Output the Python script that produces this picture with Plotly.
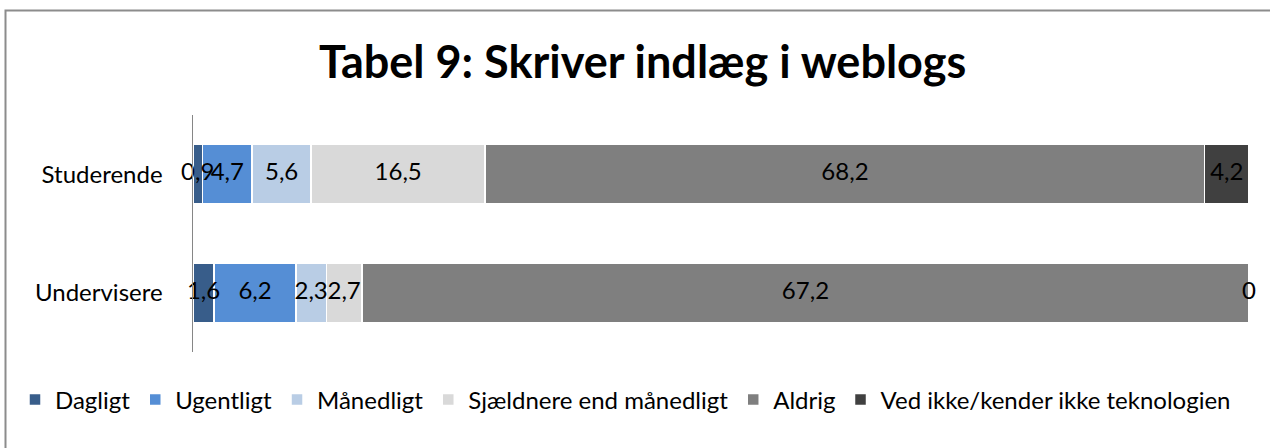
import plotly.graph_objects as go

categories = ["Studerende", "Undervisere"]
series_names = ["Dagligt", "Ugentligt", "Månedligt", "Sjældnere end månedligt", "Aldrig",
                "Ved ikke/kender ikke teknologien"]
dagligt = [0.9, 1.6]
ugentligt = [4.7, 6.2]
maanedligt = [5.6, 2.3]
sjaeldnere = [16.5, 2.7]
aldrig = [68.2, 67.2]
ved_ikke = [4.2, 0]
colors = ["#385D8A", "#558ED5", "#B9CDE5", "#D9D9D9", "#7F7F7F", "#404040"]

series_values = [dagligt, ugentligt, maanedligt, sjaeldnere, aldrig, ved_ikke]


def fmt(v):
    if v == 0:
        return "0"
    return f"{v:.1f}".replace(".", ",")


FONT = "Lato"
LABEL_SIZE = 24
fig = go.Figure()
for name, vals, col in zip(series_names, series_values, colors):
    fig.add_trace(go.Bar(
        name=name, y=categories, x=vals, orientation="h",
        marker=dict(color=col, line=dict(color="white", width=1.5)),
        hoverinfo="name+x",
    ))

# data labels, placed at the middle of each (percent-normalised) segment, drawn above all bars
totals = [sum(s[i] for s in series_values) for i in range(len(categories))]
cum = [0.0] * len(categories)
for name, vals in zip(series_names, series_values):
    mids = []
    for i, v in enumerate(vals):
        mids.append((cum[i] + v / 2) / totals[i] * 100)
        cum[i] += v
    fig.add_trace(go.Scatter(
        x=mids, y=categories, mode="text", text=[fmt(v) for v in vals],
        textposition="middle center", showlegend=False, hoverinfo="skip",
        textfont=dict(family=FONT, size=LABEL_SIZE, color="black"),
        cliponaxis=False,
    ))

W, H = 1270, 448
L, R, T, B = 193, 21, 115, 96
pw, ph = W - L - R, H - T - B


def px2paper_x(px):
    return (px - L) / pw


def px2paper_y(py):
    return (H - B - py) / ph


fig.update_layout(
    width=W, height=H,
    barmode="stack", barnorm="percent", bargap=0.494,
    margin=dict(l=L, r=R, t=T, b=B, pad=0),
    paper_bgcolor="white", plot_bgcolor="white",
    font=dict(family=FONT, size=LABEL_SIZE, color="black"),
    title=dict(text="<b>Tabel 9: Skriver indlæg i weblogs</b>",
               x=0.506, xanchor="center", y=1 - 62 / H, yanchor="middle",
               font=dict(family=FONT, size=45, color="black")),
    xaxis=dict(range=[0, 100], showticklabels=False, showgrid=False,
               zeroline=False, showline=False, fixedrange=True),
    yaxis=dict(autorange="reversed", showline=True, linecolor="#868686", linewidth=1,
               ticks="", showgrid=False, ticksuffix="    ",
               tickfont=dict(family=FONT, size=LABEL_SIZE, color="black")),
    legend=dict(orientation="h", xref="paper", yref="paper",
                x=px2paper_x(15), xanchor="left", y=px2paper_y(400), yanchor="middle",
                font=dict(family=FONT, size=LABEL_SIZE, color="black"),
                itemwidth=30, traceorder="normal", bgcolor="rgba(0,0,0,0)"),
    showlegend=True,
    shapes=[dict(type="rect", xref="paper", yref="paper",
                 x0=px2paper_x(5.5), x1=px2paper_x(W + 50),
                 y0=px2paper_y(H + 50), y1=px2paper_y(10.5),
                 line=dict(color="#8C8C8C", width=2), fillcolor="rgba(0,0,0,0)",
                 layer="below")],
)

fig.write_html("out.html", config={"displayModeBar": False},
               post_script="document.body.style.margin='0';document.body.style.overflow='hidden';")
